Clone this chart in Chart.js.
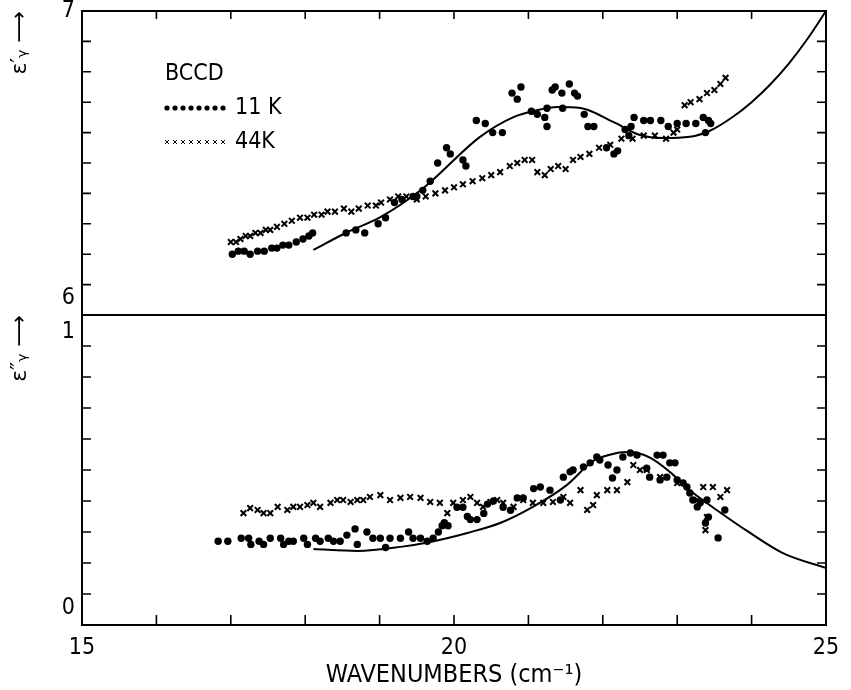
<!DOCTYPE html>
<html>
<head>
<meta charset="utf-8">
<script src="https://cdn.jsdelivr.net/npm/chart.js@4/dist/chart.umd.min.js"></script>
<style>
  body { margin: 0; background: #fff; }
  #wrap { position: relative; width: 851px; height: 690px; }
  canvas { position: absolute; left: 0; }
  #top { top: 0; }
  #bottom { top: 300px; }
</style>
</head>
<body>
<div id="wrap">
  <canvas id="top" width="851" height="321" style="width:851px;height:321px"></canvas>
  <canvas id="bottom" width="851" height="390" style="width:851px;height:390px"></canvas>
</div>
<script>
// Tick labels
const xTickLabels = [15, 20, 25];
const topYLabels = [6, 7];
const botYLabels = [0, 1];

// Legend
const sampleName = 'BCCD';
const label11 = '11 K';
const label44 = '44K';

// Top panel (eps') - fitted curve
const fitTopX = [18.11, 18.57, 19.01, 19.59, 20.35, 20.80, 21.12, 21.39, 21.70, 22.14, 22.50, 22.81, 23.17, 23.44, 23.75, 24.0, 24.25, 24.5, 24.75, 25.0];
const fitTopY = [6.214, 6.273, 6.322, 6.418, 6.586, 6.651, 6.674, 6.684, 6.681, 6.635, 6.592, 6.582, 6.586, 6.606, 6.652, 6.700, 6.758, 6.827, 6.908, 7.0];

// Top panel - 11 K points
const top11X = [17.02, 17.10, 17.18, 17.26, 17.36, 17.45, 17.55, 17.62, 17.70, 17.78, 17.88, 17.97, 18.05, 18.10, 18.55, 18.68, 18.80, 18.98, 19.08, 19.20, 19.30, 19.45, 19.50, 19.58, 19.68, 19.78, 19.90, 19.95, 20.12, 20.16, 20.30, 20.42, 20.52, 20.65, 20.78, 20.85, 20.90, 21.04, 21.12, 21.22, 21.25, 21.25, 21.32, 21.36, 21.45, 21.46, 21.55, 21.62, 21.66, 21.75, 21.80, 21.88, 22.05, 22.15, 22.20, 22.30, 22.35, 22.38, 22.42, 22.55, 22.64, 22.78, 22.88, 23.00, 23.12, 23.25, 23.35, 23.38, 23.42, 23.45];
const top11Y = [6.20, 6.21, 6.21, 6.20, 6.21, 6.21, 6.22, 6.22, 6.23, 6.23, 6.24, 6.25, 6.26, 6.27, 6.27, 6.28, 6.27, 6.30, 6.32, 6.37, 6.38, 6.39, 6.39, 6.41, 6.44, 6.50, 6.55, 6.53, 6.51, 6.49, 6.64, 6.63, 6.60, 6.60, 6.73, 6.71, 6.75, 6.67, 6.66, 6.65, 6.62, 6.68, 6.74, 6.75, 6.73, 6.68, 6.76, 6.73, 6.72, 6.66, 6.62, 6.62, 6.55, 6.53, 6.54, 6.61, 6.59, 6.62, 6.65, 6.64, 6.64, 6.64, 6.62, 6.63, 6.63, 6.63, 6.65, 6.60, 6.64, 6.63];

// Top panel - 44 K points
const top44X = [17.00, 17.07, 17.13, 17.20, 17.26, 17.33, 17.40, 17.47, 17.53, 17.62, 17.72, 17.82, 17.93, 18.03, 18.12, 18.22, 18.30, 18.40, 18.52, 18.62, 18.72, 18.84, 18.95, 19.02, 19.14, 19.25, 19.36, 19.50, 19.62, 19.75, 19.88, 20.00, 20.12, 20.25, 20.38, 20.50, 20.62, 20.75, 20.85, 20.95, 21.05, 21.12, 21.22, 21.30, 21.40, 21.50, 21.60, 21.70, 21.82, 21.95, 22.10, 22.25, 22.40, 22.55, 22.70, 22.85, 22.95, 23.00, 23.10, 23.18, 23.30, 23.40, 23.50, 23.58, 23.65];
const top44Y = [6.24, 6.24, 6.25, 6.26, 6.26, 6.27, 6.27, 6.28, 6.28, 6.29, 6.30, 6.31, 6.32, 6.32, 6.33, 6.33, 6.34, 6.34, 6.35, 6.34, 6.35, 6.36, 6.36, 6.37, 6.38, 6.39, 6.39, 6.38, 6.39, 6.40, 6.41, 6.42, 6.43, 6.44, 6.45, 6.46, 6.47, 6.49, 6.50, 6.51, 6.51, 6.47, 6.46, 6.48, 6.49, 6.48, 6.51, 6.52, 6.53, 6.55, 6.56, 6.58, 6.58, 6.59, 6.59, 6.58, 6.60, 6.61, 6.69, 6.70, 6.71, 6.73, 6.74, 6.76, 6.78];

// Bottom panel (eps'') - fitted curve
const fitBotX = [18.11, 18.70, 19.28, 19.68, 20.18, 20.62, 21.06, 21.52, 21.87, 22.19, 22.37, 22.64, 22.90, 23.17, 23.53, 23.98, 24.42, 25.0];
const fitBotY = [0.245, 0.239, 0.252, 0.268, 0.297, 0.329, 0.381, 0.452, 0.529, 0.555, 0.558, 0.539, 0.494, 0.435, 0.371, 0.297, 0.232, 0.184];

// Bottom panel - 11 K points
const bot11X = [16.83, 16.96, 17.14, 17.24, 17.27, 17.38, 17.44, 17.53, 17.67, 17.71, 17.78, 17.84, 17.98, 18.03, 18.14, 18.20, 18.31, 18.38, 18.47, 18.56, 18.67, 18.70, 18.83, 18.91, 19.01, 19.08, 19.14, 19.28, 19.39, 19.45, 19.55, 19.64, 19.72, 19.79, 19.84, 19.87, 19.92, 20.04, 20.12, 20.18, 20.22, 20.31, 20.40, 20.45, 20.53, 20.66, 20.76, 20.85, 20.93, 21.07, 21.16, 21.29, 21.43, 21.47, 21.56, 21.60, 21.74, 21.83, 21.92, 21.96, 22.07, 22.13, 22.19, 22.27, 22.37, 22.46, 22.59, 22.63, 22.73, 22.77, 22.81, 22.86, 22.90, 22.97, 23.00, 23.08, 23.13, 23.17, 23.21, 23.27, 23.31, 23.38, 23.40, 23.42, 23.55, 23.64];
const bot11Y = [0.27, 0.27, 0.28, 0.28, 0.26, 0.27, 0.26, 0.28, 0.28, 0.26, 0.27, 0.27, 0.28, 0.26, 0.28, 0.27, 0.28, 0.27, 0.27, 0.29, 0.31, 0.26, 0.30, 0.28, 0.28, 0.25, 0.28, 0.28, 0.30, 0.28, 0.28, 0.27, 0.28, 0.30, 0.32, 0.33, 0.32, 0.38, 0.38, 0.35, 0.34, 0.34, 0.36, 0.39, 0.40, 0.38, 0.37, 0.41, 0.41, 0.44, 0.445, 0.435, 0.403, 0.477, 0.494, 0.50, 0.51, 0.523, 0.542, 0.532, 0.516, 0.474, 0.50, 0.542, 0.555, 0.548, 0.506, 0.477, 0.548, 0.468, 0.548, 0.477, 0.523, 0.523, 0.468, 0.458, 0.445, 0.426, 0.403, 0.381, 0.394, 0.329, 0.403, 0.348, 0.281, 0.371];

// Bottom panel - 44 K points
const bot44X = [17.17, 17.26, 17.36, 17.44, 17.53, 17.63, 17.76, 17.84, 17.93, 18.03, 18.11, 18.20, 18.34, 18.43, 18.51, 18.61, 18.70, 18.78, 18.87, 19.01, 19.14, 19.28, 19.41, 19.55, 19.68, 19.81, 19.91, 19.99, 20.12, 20.22, 20.31, 20.39, 20.49, 20.58, 20.66, 20.80, 20.93, 21.06, 21.20, 21.33, 21.47, 21.56, 21.70, 21.79, 21.87, 21.92, 22.06, 22.19, 22.33, 22.41, 22.50, 22.59, 22.77, 23.00, 23.27, 23.35, 23.38, 23.40, 23.48, 23.58, 23.67];
const bot44Y = [0.361, 0.377, 0.371, 0.361, 0.361, 0.381, 0.371, 0.381, 0.381, 0.387, 0.394, 0.381, 0.394, 0.403, 0.403, 0.397, 0.403, 0.403, 0.413, 0.419, 0.403, 0.410, 0.413, 0.410, 0.397, 0.394, 0.361, 0.394, 0.403, 0.413, 0.394, 0.381, 0.397, 0.403, 0.394, 0.381, 0.403, 0.394, 0.394, 0.397, 0.413, 0.394, 0.435, 0.371, 0.387, 0.419, 0.435, 0.435, 0.461, 0.516, 0.50, 0.50, 0.477, 0.458, 0.403, 0.445, 0.306, 0.348, 0.445, 0.413, 0.435];

const FONT = "'Liberation Sans Narrow', 'DejaVu Sans Condensed', 'DejaVu Sans', sans-serif";
Chart.defaults.color = '#000';
Chart.defaults.font.family = FONT;

// Pair up x and y arrays
function toPoints(xs, ys) {
    return xs.map((x, i) => ({ x: x, y: ys[i] }));
}

function dotSet(label, xs, ys) {
    return {
        label: label, data: toPoints(xs, ys), showLine: false,
        pointStyle: 'circle', pointRadius: 3.7, pointBorderWidth: 0,
        backgroundColor: '#000', borderColor: '#000'
    };
}

function crossSet(label, xs, ys) {
    return {
        label: label, data: toPoints(xs, ys), showLine: false,
        pointStyle: 'crossRot', pointRadius: 4, pointBorderWidth: 2,
        backgroundColor: '#000', borderColor: '#000'
    };
}

function fitSet(xs, ys) {
    return {
        label: '', data: toPoints(xs, ys), showLine: true, pointRadius: 0,
        borderColor: '#000', borderWidth: 2, fill: false,
        cubicInterpolationMode: 'monotone'
    };
}

// Frame plus inward tick marks on every side
const frameTicks = {
    id: 'frameTicks',
    afterDraw(chart, args, opts) {
        const ctx = chart.ctx;
        const a = chart.chartArea;
        const xs = chart.scales.x;
        const ys = chart.scales.y;
        ctx.save();
        ctx.strokeStyle = '#000';
        ctx.lineWidth = 2;
        ctx.strokeRect(a.left, a.top, a.right - a.left, a.bottom - a.top);
        ctx.lineWidth = 1.6;
        ctx.beginPath();
        ys.ticks.forEach(t => {
            const py = ys.getPixelForValue(t.value);
            ctx.moveTo(a.left, py);
            ctx.lineTo(a.left + opts.yLen, py);
            ctx.moveTo(a.right, py);
            ctx.lineTo(a.right - opts.yLen, py);
        });
        const edge = opts.xSide === 'top' ? a.top : a.bottom;
        const dir = opts.xSide === 'top' ? 1 : -1;
        xs.ticks.forEach(t => {
            const px = xs.getPixelForValue(t.value);
            ctx.moveTo(px, edge);
            ctx.lineTo(px, edge + dir * opts.xLen);
        });
        ctx.stroke();
        ctx.restore();
    }
};

// Legend in the top-left of the upper panel
const innerLegend = {
    id: 'innerLegend',
    afterDraw(chart, args, opts) {
        if (!opts.show) return;
        const ctx = chart.ctx;
        ctx.save();
        ctx.fillStyle = '#000';
        ctx.font = '23px ' + FONT;
        ctx.textBaseline = 'middle';
        ctx.fillText(sampleName, opts.x, opts.y);
        let row = 0;
        chart.data.datasets.forEach(ds => {
            if (!ds.label) return;
            row++;
            const cy = opts.y + row * opts.rowGap;
            for (let px = opts.x + 2; px <= opts.x + opts.markLen; px += opts.step) {
                Chart.helpers.drawPoint(ctx, {
                    pointStyle: ds.pointStyle, radius: ds.pointRadius * 0.7,
                    rotation: 0, borderWidth: ds.pointBorderWidth * 0.8
                }, px, cy);
            }
            ctx.fillStyle = '#000';
            ctx.fillText(ds.label, opts.x + opts.markLen + 6, cy);
        });
        ctx.restore();
    }
};

function isLabel(v, list) {
    return list.some(n => Math.abs(v - n) < 1e-6);
}

function makeChart(id, panel) {
    const isTop = panel === 'top';
    const yLabels = isTop ? topYLabels : botYLabels;
    const datasets = isTop
        ? [fitSet(fitTopX, fitTopY), dotSet(label11, top11X, top11Y), crossSet(label44, top44X, top44Y)]
        : [fitSet(fitBotX, fitBotY), dotSet(label11, bot11X, bot11Y), crossSet(label44, bot44X, bot44Y)];

    return new Chart(document.getElementById(id), {
        type: 'scatter',
        data: { datasets: datasets },
        plugins: [frameTicks, innerLegend],
        options: {
            responsive: false,
            animation: false,
            devicePixelRatio: 1,
            layout: { padding: isTop ? { top: 11, bottom: 1, left: 0, right: 25 } : { top: 15, bottom: 0, left: 0, right: 25 } },
            plugins: {
                legend: { display: false },
                tooltip: { enabled: false },
                frameTicks: { yLen: 9, xLen: isTop ? 8 : 10, xSide: isTop ? 'top' : 'bottom' },
                innerLegend: { show: isTop, x: 165, y: 74, rowGap: 34, markLen: 64, step: 8 }
            },
            scales: {
                x: {
                    type: 'linear', min: 15, max: 25,
                    afterFit: s => {
                        s.height = isTop ? 0 : 65;
                        s.paddingLeft = 0;
                        s.paddingRight = 0;
                    },
                    grid: { display: false, drawTicks: false },
                    border: { display: false },
                    ticks: {
                        display: !isTop, stepSize: 1, autoSkip: false, padding: 9,
                        maxRotation: 0, font: { size: 23 },
                        callback: v => isLabel(v, xTickLabels) ? String(Math.round(v)) : ''
                    },
                    title: {
                        display: !isTop, text: 'WAVENUMBERS (cm\u207B\u00B9)',
                        font: { size: 25 }, padding: { top: 0, bottom: 0 }
                    }
                },
                y: {
                    type: 'linear',
                    min: isTop ? 6 : 0, max: isTop ? 7 : 1,
                    afterFit: s => {
                        s.width = 82;
                        s.paddingTop = 0;
                        s.paddingBottom = 0;
                    },
                    grid: { display: false, drawTicks: false },
                    border: { display: false },
                    ticks: {
                        stepSize: 0.1, autoSkip: false, padding: 7,
                        font: { size: 23, lineHeight: 1.5 },
                        callback: v => {
                            if (!isLabel(v, yLabels)) return '';
                            const t = String(Math.round(v));
                            // nudge the labels that meet at the panel joint / base
                            if (isTop) return Math.round(v) === 6 ? [t, ''] : t;
                            return Math.round(v) === 1 ? ['', t] : [t, ''];
                        }
                    },
                    title: {
                        display: true, align: 'end',
                        text: isTop ? '\u03B5\u2032\u1D67 \u27F6' : '\u03B5\u2033\u1D67 \u27F6',
                        font: { size: 22, family: "'DejaVu Sans', sans-serif" },
                        padding: { top: 7, bottom: 0 }
                    }
                }
            }
        }
    });
}

makeChart('top', 'top');
makeChart('bottom', 'bottom');
</script>
</body>
</html>
